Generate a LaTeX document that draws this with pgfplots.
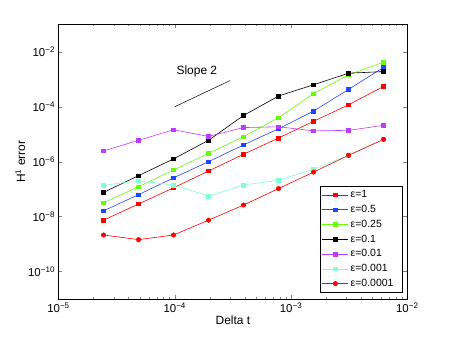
\documentclass[border=0pt]{standalone}
\usepackage{fontspec}
\setmainfont{Liberation Sans}
\usepackage{pgfplots}
\pgfplotsset{compat=1.18}
\definecolor{cred}{RGB}{255,0,0}
\definecolor{cblue}{RGB}{30,70,255}
\definecolor{cgreen}{RGB}{100,255,0}
\definecolor{cpurple}{RGB}{190,60,255}
\definecolor{ccyan}{RGB}{127,255,212}
\begin{document}
\begin{tikzpicture}
\begin{axis}[name=ax,
  scale only axis, width=348.8bp, height=274.7bp,
  xmode=log, ymode=log,
  xmin=1e-5, xmax=1e-2, ymin=1e-11, ymax=1e-1,
  xtick={1e-5,1e-4,1e-3,1e-2},
  xticklabels={10\textsuperscript{−5},10\textsuperscript{−4},10\textsuperscript{−3},10\textsuperscript{−2}},
  ytick={1e-10,1e-8,1e-6,1e-4,1e-2},
  yticklabels={10\textsuperscript{−10},10\textsuperscript{−8},10\textsuperscript{−6},10\textsuperscript{−4},10\textsuperscript{−2}},
  yminorticks=false,
  tick align=inside, major tick length=4bp, minor tick length=2bp,
  ticklabel style={font=\fontsize{11.5}{13}\selectfont},
  xlabel={Delta t}, ylabel={H\textsuperscript{1} error},
  label style={font=\fontsize{12}{14}\selectfont},
  xlabel style={yshift=4bp}, ylabel style={yshift=-4bp},
  axis line style={line width=0.8pt},
  every axis plot/.append style={line width=0.6pt},
  legend style={at={(0.988,0.024)}, anchor=south east, font=\fontsize{10.5}{12}\selectfont,
    draw=black, line width=0.8pt, row sep=2bp, inner xsep=2bp, inner ysep=2bp,
    nodes={text width=48bp}},
  legend cell align=left,
  legend image code/.code={\draw[#1] (0bp,0bp) -- (26bp,0bp); \draw[#1, mark repeat=1] plot coordinates {(13bp,0bp)};},
]
\addplot[cred, mark=square*, mark size=1.8pt] coordinates {
(2.4414e-5,7.41e-9)(4.8828e-5,2.88e-8)(9.7656e-5,1.12e-7)(1.9531e-4,4.57e-7)(3.9063e-4,1.86e-6)(7.8125e-4,7.24e-6)(1.5625e-3,2.95e-5)(3.125e-3,1.17e-4)(6.25e-3,5.5e-4)};
\addlegendentry{ε=1}
\addplot[cblue, mark=square*, mark size=1.8pt] coordinates {
(2.4414e-5,1.62e-8)(4.8828e-5,6.3e-8)(9.7656e-5,2.57e-7)(1.9531e-4,1.0e-6)(3.9063e-4,4.07e-6)(7.8125e-4,1.58e-5)(1.5625e-3,6.9e-5)(3.125e-3,4.27e-4)(6.25e-3,2.7e-3)};
\addlegendentry{ε=0.5}
\addplot[cgreen, mark=square*, mark size=1.8pt] coordinates {
(2.4414e-5,3.16e-8)(4.8828e-5,1.23e-7)(9.7656e-5,5.0e-7)(1.9531e-4,2.0e-6)(3.9063e-4,8.1e-6)(7.8125e-4,3.98e-5)(1.5625e-3,3.0e-4)(3.125e-3,1.45e-3)(6.25e-3,4.2e-3)};
\addlegendentry{ε=0.25}
\addplot[black, mark=square*, mark size=1.8pt] coordinates {
(2.4414e-5,7.6e-8)(4.8828e-5,3.1e-7)(9.7656e-5,1.26e-6)(1.9531e-4,6.0e-6)(3.9063e-4,4.8e-5)(7.8125e-4,2.45e-4)(1.5625e-3,6.3e-4)(3.125e-3,1.66e-3)(6.25e-3,1.9e-3)};
\addlegendentry{ε=0.1}
\addplot[cpurple, mark=square*, mark size=1.8pt] coordinates {
(2.4414e-5,2.45e-6)(4.8828e-5,6.0e-6)(9.7656e-5,1.45e-5)(1.9531e-4,8.3e-6)(3.9063e-4,1.74e-5)(7.8125e-4,1.86e-5)(1.5625e-3,1.32e-5)(3.125e-3,1.38e-5)(6.25e-3,2.1e-5)};
\addlegendentry{ε=0.01}
\addplot[ccyan, mark=square*, mark size=1.8pt] coordinates {
(2.4414e-5,1.38e-7)(4.8828e-5,2.0e-7)(9.7656e-5,1.41e-7)(1.9531e-4,5.6e-8)(3.9063e-4,1.41e-7)(7.8125e-4,2.1e-7)(1.5625e-3,5.3e-7)(3.125e-3,1.7e-6)(6.25e-3,6.5e-6)};
\addlegendentry{ε=0.001}
\addplot[cred, mark=*, mark size=2.2pt] coordinates {
(2.4414e-5,2.14e-9)(4.8828e-5,1.45e-9)(9.7656e-5,2.14e-9)(1.9531e-4,7.41e-9)(3.9063e-4,2.63e-8)(7.8125e-4,1.05e-7)(1.5625e-3,4.17e-7)(3.125e-3,1.7e-6)(6.25e-3,6.5e-6)};
\addlegendentry{ε=0.0001}
\addplot[black, line width=0.5pt, forget plot] coordinates {(1e-4,1e-4)(3e-4,9e-4)};
\node[font=\fontsize{12}{14}\selectfont] at (axis cs:1.55e-4,2e-3) {Slope 2};
\end{axis}
\pgfresetboundingbox
\path ([shift={(-58.5bp,-38bp)}]ax.south west) rectangle ([shift={(42.7bp,24.3bp)}]ax.north east);
\end{tikzpicture}
\end{document}
